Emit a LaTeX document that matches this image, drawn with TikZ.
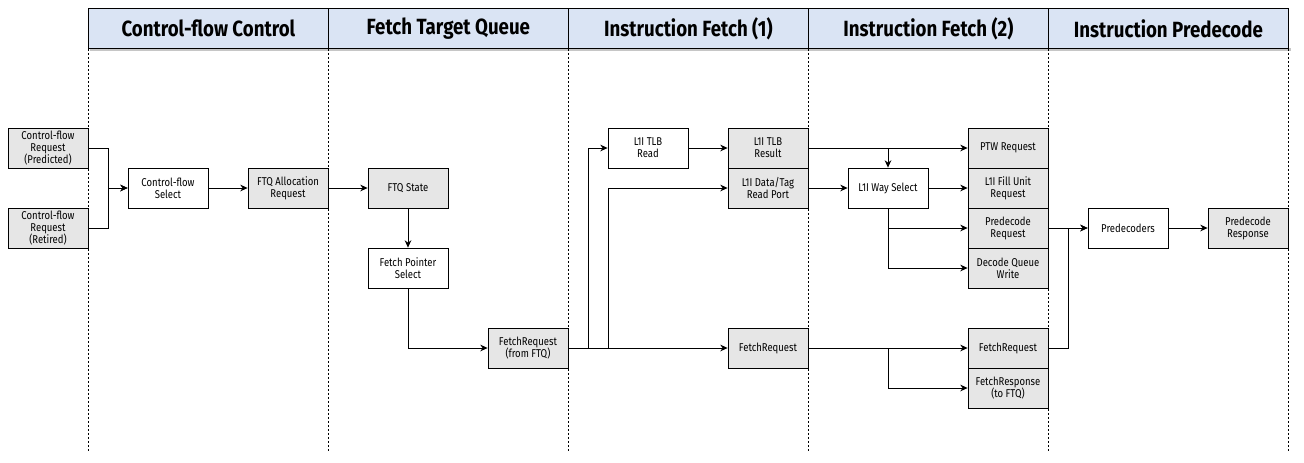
\documentclass[tikz,border=0pt]{standalone}
\usepackage{fontspec}
\setmainfont{Fira Sans}
\newfontfamily\stagefont{Fira Sans}[FakeStretch=0.85]
\newfontfamily\blockfont{Fira Sans}[FakeStretch=0.84]
\usetikzlibrary{arrows.meta}

\definecolor{stageblue}{RGB}{218,228,244}
\definecolor{blockgrey}{RGB}{230,230,230}

\tikzset{
  stage/.style={draw, fill=stageblue, anchor=north west, minimum width=180pt, minimum height=30pt,
    inner sep=0pt, line width=0.6pt, font=\stagefont\bfseries\fontsize{16.5}{18}\selectfont},
  blk/.style={draw, fill=white, minimum width=60pt, minimum height=30pt, inner sep=1pt,
    align=center, line width=0.6pt, font=\blockfont\fontsize{8.5}{9}\selectfont},
  gblk/.style={blk, fill=blockgrey},
  flow/.style={-{Stealth[length=5.5pt,width=5pt]}, line width=0.6pt},
  lane/.style={dash pattern=on 1.5pt off 1.5pt, line width=0.5pt},
}

\begin{document}
\begin{tikzpicture}[x=0.75pt,y=-0.75pt]
  \useasboundingbox (0,0) rectangle (1304,462);

  % stage headers
  \fill[gray!45] (90,48) rectangle (1291,51);
  \foreach \name/\xpos/\title in {hcf/88/Control-flow Control, hftq/328/Fetch Target Queue,
      hif1/568/Instruction Fetch (1), hif2/808/Instruction Fetch (2), hipd/1048/Instruction Predecode}
    \node[stage] (\name) at (\xpos,8) {\title};

  \foreach \name in {hcf,hftq,hif1,hif2,hipd}
    \draw[lane] (\name.south west) -- ++(0,402);
  \draw[lane] (hipd.south east) -- ++(0,402);

  % control-flow control
  \node[gblk] (cfpred) at (48,148) {Control-flow\\Request\\(Predicted)};
  \node[gblk] (cfret) at (48,228) {Control-flow\\Request\\(Retired)};
  \node[blk] (cfsel) at (168,188) {Control-flow\\Select};
  \node[gblk] (ftqalloc) at (288,188) {FTQ Allocation\\Request};

  % fetch target queue
  \node[gblk] (ftqstate) at (408,188) {FTQ State};
  \node[blk] (fpsel) at (408,268) {Fetch Pointer\\Select};
  \node[gblk] (frftq) at (528,348) {FetchRequest\\(from FTQ)};

  % instruction fetch (1)
  \node[blk] (tlbread) at (648,148) {L1I TLB\\Read};
  \node[gblk] (tlbres) at (768,148) {L1I TLB\\Result};
  \node[gblk] (dtport) at (768,188) {L1I Data/Tag\\Read Port};
  \node[gblk] (freq1) at (768,348) {FetchRequest};

  % instruction fetch (2)
  \node[blk] (waysel) at (888,188) {L1I Way Select};
  \node[gblk] (ptwreq) at (1008,148) {PTW Request};
  \node[gblk] (fillreq) at (1008,188) {L1I Fill Unit\\Request};
  \node[gblk] (pdreq) at (1008,228) {Predecode\\Request};
  \node[gblk] (dqwrite) at (1008,268) {Decode Queue\\Write};
  \node[gblk] (freq2) at (1008,348) {FetchRequest};
  \node[gblk] (fresp) at (1008,388) {FetchResponse\\(to FTQ)};

  % instruction predecode
  \node[blk] (predcd) at (1128,228) {Predecoders};
  \node[gblk] (pdresp) at (1248,228) {Predecode\\Response};

  % connectors
  \draw[flow] (cfpred.east) -- ++(20,0) |- (cfsel.west);
  \draw[flow] (cfret.east) -- ++(20,0) |- (cfsel.west);
  \draw[flow] (cfsel) -- (ftqalloc);
  \draw[flow] (ftqalloc) -- (ftqstate);
  \draw[flow] (ftqstate) -- (fpsel);
  \draw[flow] (fpsel.south) |- (frftq.west);

  \draw[flow] (frftq.east) -- (freq1.west);
  \draw[flow] (frftq.east) -- ++(20,0) |- (tlbread.west);
  \draw[flow] (frftq.east) -- ++(40,0) |- (dtport.west);
  \draw[flow] (tlbread) -- (tlbres);

  \draw[flow] (tlbres.east) -- (ptwreq.west);
  \draw[flow] (tlbres.east -| waysel.north) -- (waysel.north);
  \draw[flow] (dtport.east) -- (waysel.west);
  \draw[flow] (waysel) -- (fillreq);
  \draw[flow] (waysel.south) |- (pdreq.west);
  \draw[flow] (waysel.south) |- (dqwrite.west);
  \draw[flow] (freq1.east) -- (freq2.west);
  \draw[flow] (freq1.east -| waysel.south) |- (fresp.west);

  \draw[flow] (pdreq.east) -- (predcd.west);
  \draw[flow] (freq2.east) -- ++(20,0) |- (predcd.west);
  \draw[flow] (predcd) -- (pdresp);
\end{tikzpicture}
\end{document}
